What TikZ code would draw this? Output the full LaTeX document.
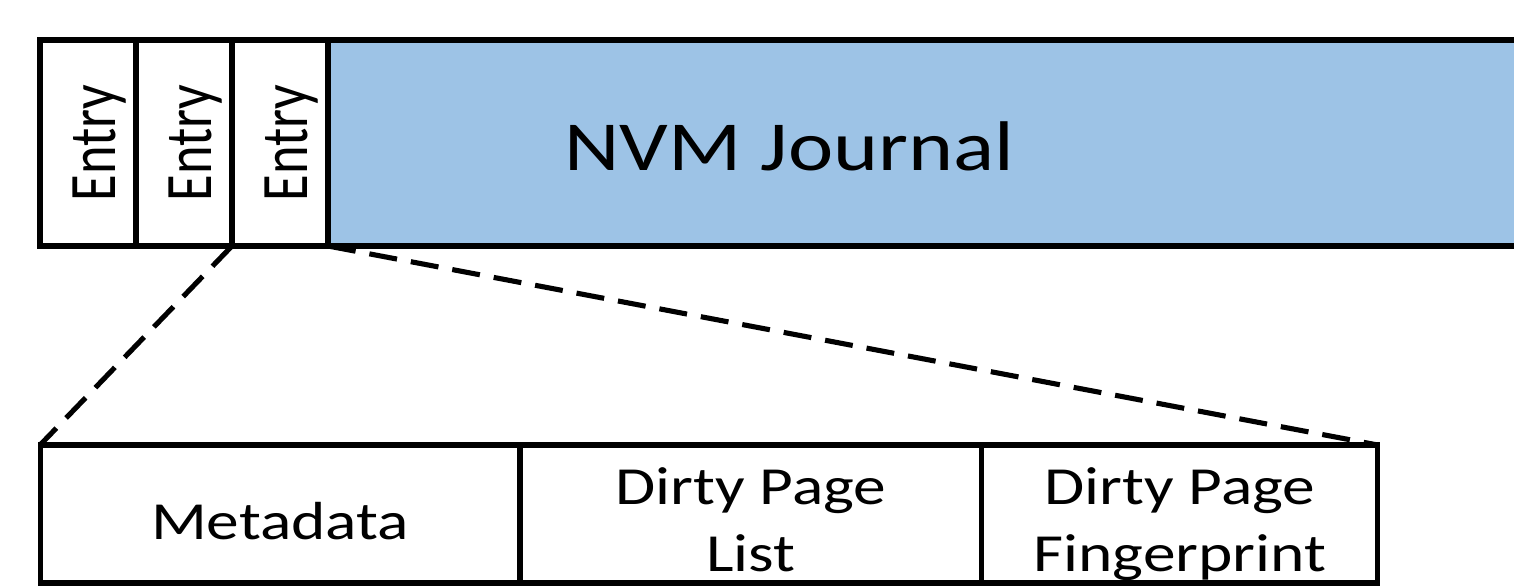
\documentclass[tikz,border=0pt]{standalone}
\usepackage{fontspec}
\setmainfont{Carlito}
\usetikzlibrary{positioning}
\definecolor{nvmblue}{RGB}{157,195,230}
\newcommand{\wide}[1]{\scalebox{1.22}[1]{#1}}
\newcommand{\entrytext}{\hspace*{13pt}\wide{\rotatebox{90}{Entry}}}

\begin{document}
\begin{tikzpicture}[
		x=0.02cm, y=-0.02cm,
		box/.style={rectangle, draw, line width=2.9pt, inner sep=0pt, outer sep=0pt},
		entry/.style={box, minimum width=1.92cm, minimum height=4.12cm, font=\fontsize{31}{33}\selectfont},
		part/.style={box, minimum height=2.76cm, align=center, text depth=0pt, font=\fontsize{30.5}{38.5}\selectfont},
		zoomline/.style={line width=2.9pt, dash pattern=on 16pt off 8pt}
		]
		\useasboundingbox (0,0) rectangle (1514,586);
		
		% journal row
		\node[entry] (e1) at (88,143) {\entrytext};
		\node[entry, right=0pt of e1] (e2) {\entrytext};
		\node[entry, right=0pt of e2] (e3) {\entrytext};
		\node[box, fill=nvmblue, minimum width=24.4cm, minimum height=4.12cm, right=0pt of e3] (journal) {};
		\node[font=\fontsize{40}{40}\selectfont] (title) at (789,146) {\wide{NVM Journal}};
		
		% entry layout
		\node[part, text height=29.5pt, minimum width=9.6cm] (meta) at (280,514) {\wide{Metadata}};
		\node[part, text height=65.8pt, minimum width=9.24cm, right=0pt of meta] (dlist) {\wide{Dirty Page}\\\wide{List}};
		\node[part, text height=65.8pt, minimum width=7.92cm, right=0pt of dlist] (dfp) {\wide{Dirty Page}\\\wide{Fingerprint}};
		
		% zoom lines
		\draw[zoomline] (e3.south west) -- (meta.north west);
		\draw[zoomline] (e3.south east) -- (dfp.north east);
		
	\end{tikzpicture}
\end{document}
